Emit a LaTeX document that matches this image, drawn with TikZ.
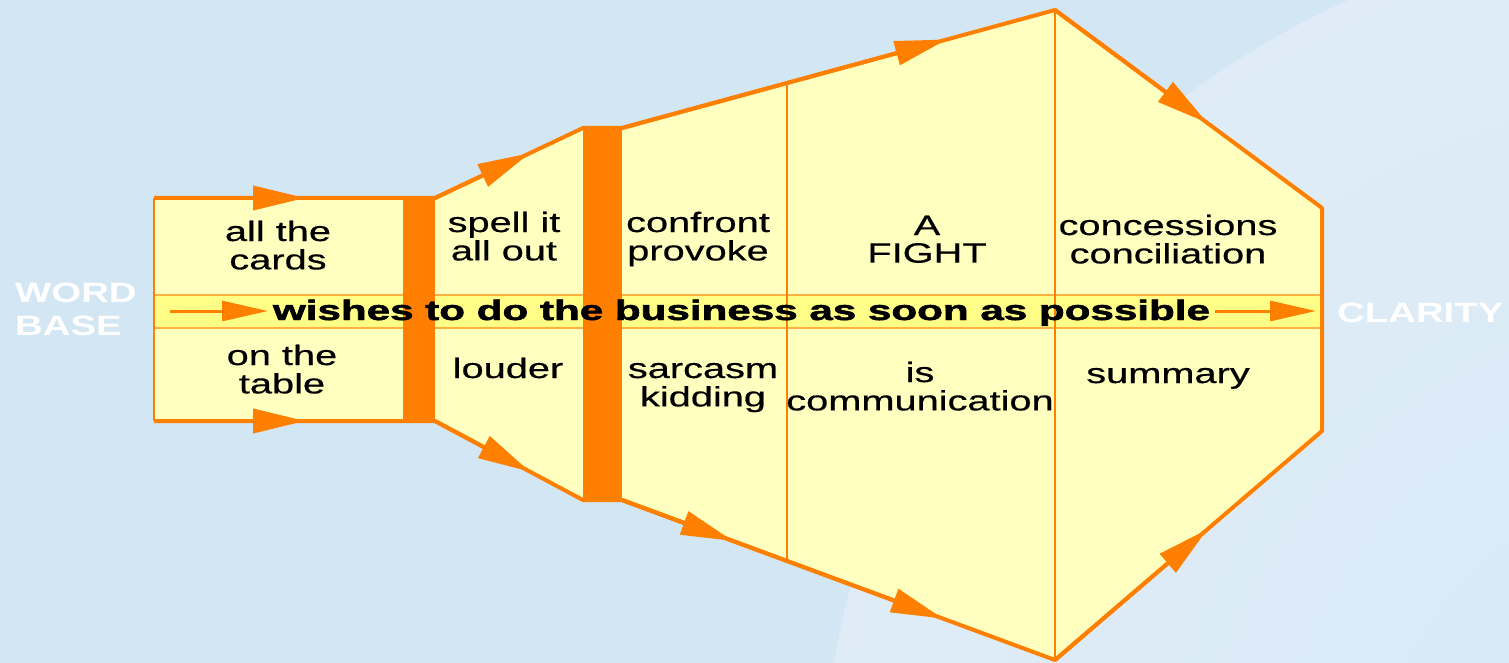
\documentclass[tikz,border=0pt]{standalone}
\usepackage{fontspec}
\setmainfont{Liberation Sans}
\newfontfamily\heavyfont[FakeBold=1.6]{Liberation Sans Bold}
\newfontfamily\labelfont[FakeBold=0.4]{Liberation Sans}
\usepackage{graphicx}
\usetikzlibrary{arrows.meta,calc}
\definecolor{bg}{HTML}{D3E6F4}
\definecolor{org}{HTML}{FF8000}
\definecolor{pale}{HTML}{FFFFC0}
\definecolor{bandc}{HTML}{FFFF88}
\definecolor{bandedge}{HTML}{FFB040}
\pgfdeclareradialshading{globeshade}{\pgfpoint{0bp}{0bp}}{rgb(0bp)=(0.84,0.91,0.96); rgb(30bp)=(0.88,0.93,0.97); rgb(45bp)=(0.93,0.955,0.975); rgb(50bp)=(0.827,0.902,0.957)}
\newcommand\wtxt[1]{\scalebox{1.42}[1]{\begin{tabular}[t]{@{}c@{}}#1\end{tabular}}}
\newcommand\btxt[1]{\scalebox{1.37}[1]{\begin{tabular}[t]{@{}l@{}}#1\end{tabular}}}
\begin{document}
\begin{tikzpicture}[x=1pt,y=-1pt,
  lbl/.style={anchor=base, inner sep=0pt, font=\labelfont\fontsize{28}{27}\selectfont, text=black},
  sidelbl/.style={anchor=base west, inner sep=0pt, font=\fontsize{28}{33}\selectfont\bfseries, text=white},
  outlinepath/.style={draw=org, line width=4pt, line join=round},
  midarrow/.style={draw=org, fill=org, line width=4pt, -{Triangle[length=52pt,width=24pt]}},
  bandarrow/.style={draw=org, line width=3pt, -{Triangle[length=46pt,width=20pt]}},
  divider/.style={draw=org, line width=1.6pt},
  barbox/.style={fill=org},
]
% background
\fill[bg] (0,0) rectangle (1509,663);
\useasboundingbox (0,0) rectangle (1509,663);
\begin{scope}
  \clip (0,0) rectangle (1509,663);
  \shade[shading=globeshade] (1720,820) circle[radius=900pt];
\end{scope}

% corner coordinates
\coordinate (a1) at (154,198);
\coordinate (a2) at (435,198);
\coordinate (a3) at (583,128);
\coordinate (a4) at (622,128);
\coordinate (a5) at (1055,10);
\coordinate (a6) at (1322,208);
\coordinate (a7) at (1322,431);
\coordinate (a8) at (1055,660);
\coordinate (a9) at (622,500);
\coordinate (a10) at (583,500);
\coordinate (a11) at (435,421);
\coordinate (a12) at (154,421);

% yellow body
\fill[pale] (a1) -- (a2) -- (a3) -- (a4) -- (a5) -- (a6) -- (a7) -- (a8) -- (a9) -- (a10) -- (a11) -- (a12) -- cycle;

% band
\filldraw[fill=bandc, draw=bandedge, line width=1.5pt] (154,295) rectangle (1322,328);

% thin dividers
\draw[divider] (787,83) -- (787,561);
\draw[divider] (a5) -- (a8);

% orange bars
\fill[barbox] (403,198) rectangle (435,421);
\fill[barbox] (a3) rectangle (a9);

% outline
\draw[outlinepath] (a12) -- (a11) -- (a10) -- (a9) -- (a8) -- (a7) -- (a6) -- (a5) -- (a4) -- (a3) -- (a2) -- (a1);
\draw[org, line width=2pt] (a1) -- (a12);

% arrows along edges
\draw[midarrow] (a1) -- (305,198);
\draw[midarrow] (a12) -- (305,421);
\draw[midarrow] (a2) -- ($(a2)!0.64!(a3)$);
\draw[midarrow] (a11) -- ($(a11)!0.64!(a10)$);
\draw[midarrow] (a4) -- ($(a4)!0.75!(a5)$);
\draw[midarrow] (a9) -- ($(a9)!0.256!(a8)$);
\draw[midarrow] (a9) -- ($(a9)!0.741!(a8)$);
\draw[midarrow] (a5) -- ($(a5)!0.57!(a6)$);
\draw[midarrow] (a8) -- ($(a8)!0.57!(a7)$);

% band arrows
\coordinate (b1) at (170,311);
\coordinate (b2) at (268,311);
\coordinate (b3) at (1215,311);
\coordinate (b4) at (1316,311);
\draw[bandarrow] (b1) -- (b2);
\draw[bandarrow] (b3) -- (b4);

% band text
\node[anchor=base, inner sep=0pt, font=\heavyfont\fontsize{28}{28}\selectfont] (band) at (741.5,320)
  {\resizebox{937pt}{\height}{wishes to do the business as soon as possible}};

% labels
\node[lbl] (t1) at (278,241) {\wtxt{all the\\cards}};
\node[lbl] (t2) at (282,365) {\wtxt{on the\\table}};
\node[lbl] (t3) at (504,232) {\wtxt{spell it\\all out}};
\node[lbl] (t4) at (508,378) {\wtxt{louder}};
\node[lbl] (t5) at (698,232) {\wtxt{confront\\provoke}};
\node[lbl] (t6) at (703,378) {\wtxt{sarcasm\\kidding}};
\node[lbl] (t7) at (927,235) {\wtxt{A\\FIGHT}};
\node[lbl] (t8) at (920,382) {\wtxt{is\\communication}};
\node[lbl] (t9) at (1168,235) {\wtxt{concessions\\conciliation}};
\node[lbl] (t10) at (1168,383) {\wtxt{summary}};

% side labels
\node[sidelbl] (wb) at (15,302) {\btxt{WORD\\BASE}};
\node[sidelbl] (cl) at (1337,322) {\btxt{CLARITY}};
\end{tikzpicture}
\end{document}
